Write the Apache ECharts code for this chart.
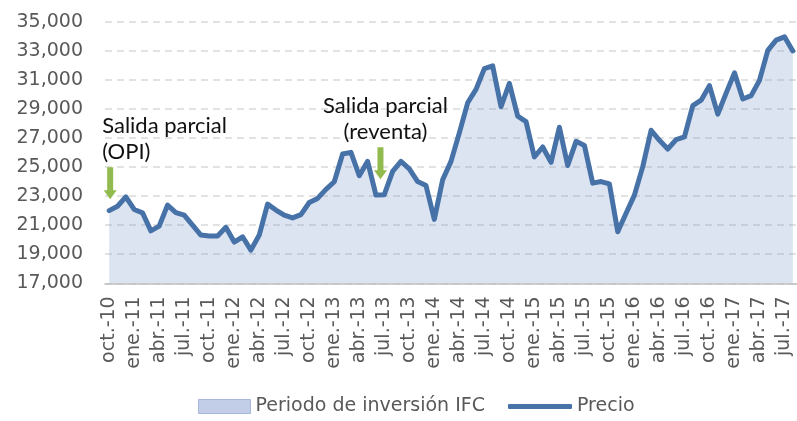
<!DOCTYPE html>
<html>
<head>
<meta charset="utf-8">
<script src="https://cdn.jsdelivr.net/npm/echarts@6/dist/echarts.min.js"></script>
<style>
html,body{margin:0;padding:0;background:#fff;}
#chart{width:797px;height:421px;}
</style>
</head>
<body>
<div id="chart"></div>
<script>
const categorias = [
  'oct.-10','nov.-10','dic.-10',
  'ene.-11','feb.-11','mar.-11','abr.-11','may.-11','jun.-11','jul.-11','ago.-11','sep.-11','oct.-11','nov.-11','dic.-11',
  'ene.-12','feb.-12','mar.-12','abr.-12','may.-12','jun.-12','jul.-12','ago.-12','sep.-12','oct.-12','nov.-12','dic.-12',
  'ene.-13','feb.-13','mar.-13','abr.-13','may.-13','jun.-13','jul.-13','ago.-13','sep.-13','oct.-13','nov.-13','dic.-13',
  'ene.-14','feb.-14','mar.-14','abr.-14','may.-14','jun.-14','jul.-14','ago.-14','sep.-14','oct.-14','nov.-14','dic.-14',
  'ene.-15','feb.-15','mar.-15','abr.-15','may.-15','jun.-15','jul.-15','ago.-15','sep.-15','oct.-15','nov.-15','dic.-15',
  'ene.-16','feb.-16','mar.-16','abr.-16','may.-16','jun.-16','jul.-16','ago.-16','sep.-16','oct.-16','nov.-16','dic.-16',
  'ene.-17','feb.-17','mar.-17','abr.-17','may.-17','jun.-17','jul.-17','ago.-17'
];
const precio = [
  22000, 22300, 22950,
  22080, 21850, 20610, 20930, 22380, 21870, 21690, 21000, 20320, 20250, 20250, 20850,
  19840, 20200, 19280, 20320, 22450, 22040, 21690, 21500, 21730, 22560, 22840, 23460,
  23990, 25900, 26010, 24400, 25390, 23070, 23100, 24700, 25390, 24880, 24000, 23730,
  21400, 24120, 25390, 27350, 29420, 30340, 31770, 31960, 29150, 30760, 28500, 28120,
  25690, 26380, 25320, 27740, 25110, 26770, 26490, 23890, 24000, 23840, 20550, 21820,
  23070, 25030, 27530, 26840, 26240, 26890, 27070, 29230, 29600, 30600, 28640, 30090,
  31480, 29680, 29910, 30960, 33030, 33730, 33960, 32990
];
const periodoInversion = precio.slice();
const ejeY = { min: 17000, max: 35000, intervalo: 2000 };
const anotaciones = [
  { texto: 'Salida parcial\n(OPI)', mes: 'oct.-10', valor: 22780 },
  { texto: 'Salida parcial\n(reventa)', mes: 'jun.-13', valor: 24160 }
];

const FONT = 'DejaVu Sans';
const GRIS = '#595959';
const arrowPath = 'path://M3.5,0 L9.5,0 L9.5,23 L13,23 L6.5,32 L0,23 L3.5,23 Z';
const fmt = v => String(v).replace(/\B(?=(\d{3})+(?!\d))/g, ',');

const chart = echarts.init(document.getElementById('chart'), null, {renderer: 'canvas'});
chart.setOption({
  animation: false,
  backgroundColor: '#ffffff',
  grid: { left: 105, right: -3, top: 21.7, bottom: 137.7, containLabel: false },
  legend: [
    {
      left: 193, top: 392, itemWidth: 52, itemHeight: 14,
      textStyle: { fontFamily: FONT, fontSize: 19, color: GRIS },
      data: [{ name: 'Periodo de inversión IFC', icon: 'rect',
               itemStyle: { color: '#c2cee8', borderColor: '#a7b8dc', borderWidth: 1 } }]
    },
    {
      left: 503, top: 392, itemWidth: 64, itemHeight: 5,
      textStyle: { fontFamily: FONT, fontSize: 19, color: GRIS },
      data: [{ name: 'Precio', icon: 'roundRect', itemStyle: { color: '#4672A8' } }]
    }
  ],
  xAxis: {
    type: 'category',
    data: categorias,
    boundaryGap: true,
    axisLine: { lineStyle: { color: '#bfbfbf', width: 1.5 } },
    axisTick: { interval: 2, length: 6, lineStyle: { color: '#bfbfbf', width: 1.5 } },
    axisLabel: { interval: 2, rotate: 90, margin: 13, fontFamily: FONT, fontSize: 19, color: GRIS },
    splitLine: { show: false }
  },
  yAxis: {
    type: 'value',
    min: ejeY.min, max: ejeY.max, interval: ejeY.intervalo,
    axisLine: { show: false },
    axisTick: { show: false },
    axisLabel: { margin: 22, fontFamily: FONT, fontSize: 19, color: GRIS, formatter: fmt },
    splitLine: { show: true, lineStyle: { color: '#d9d9d9', width: 1.5, type: [7, 5] } }
  },
  series: [
    {
      name: 'Periodo de inversión IFC',
      type: 'line',
      data: periodoInversion,
      symbol: 'none',
      lineStyle: { width: 0 },
      itemStyle: { color: '#c2cee8' },
      areaStyle: { color: 'rgba(120,145,200,0.37)', origin: 'start' },
      z: 1
    },
    {
      name: 'Precio',
      type: 'line',
      data: precio,
      symbol: 'none',
      lineStyle: { color: '#4672A8', width: 5, join: 'round', cap: 'round' },
      itemStyle: { color: '#4672A8' },
      z: 3,
      markPoint: {
        symbol: arrowPath,
        symbolSize: [13, 32],
        symbolKeepAspect: false,
        itemStyle: { color: '#92BB4F' },
        data: [
          {
            coord: [anotaciones[0].mes, anotaciones[0].valor],
            symbolOffset: [1, '-50%'],
            label: {
              show: true, formatter: anotaciones[0].texto,
              position: [-1.5, -2], align: 'left', verticalAlign: 'bottom',
              fontFamily: 'Lato', fontSize: 22, lineHeight: 26, color: '#111'
            }
          },
          {
            coord: [anotaciones[1].mes, anotaciones[1].valor],
            symbolOffset: [4.5, '-50%'],
            label: {
              show: true, formatter: anotaciones[1].texto,
              position: [11.5, -2], align: 'center', verticalAlign: 'bottom',
              fontFamily: 'Lato', fontSize: 22, lineHeight: 26, color: '#111'
            }
          }
        ]
      }
    }
  ]
});
</script>
</body>
</html>
